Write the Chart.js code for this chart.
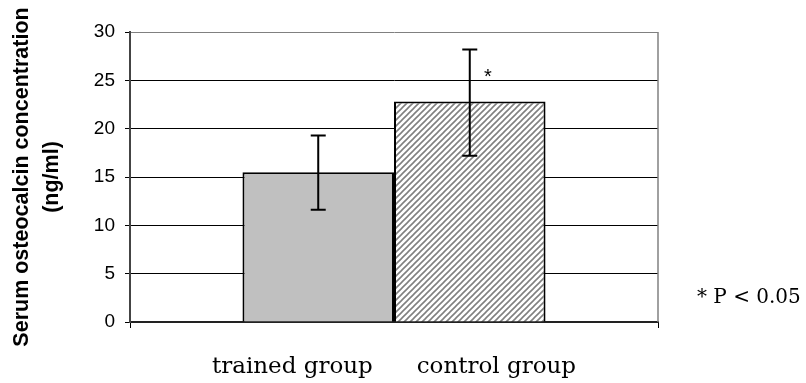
<!DOCTYPE html>
<html>
<head>
<meta charset="utf-8">
<script src="https://cdn.jsdelivr.net/npm/chart.js@4.4.1/dist/chart.umd.min.js"></script>
<style>
  body { margin: 0; background: #fff; }
  #box { width: 806px; height: 383px; }
</style>
</head>
<body>
<div id="box"><canvas id="grafico"></canvas></div>
<script>
// dados
const categorias = ['trained group      control group'];
const grupos = ['trained group', 'control group'];
const medias = [15.5, 22.8];
const erroBaixo = [11.6, 17.2];
const erroAlto = [19.3, 28.2];
const marcaAsterisco = [null, 25.6];
const nota = '* P < 0.05';

// padrão hachurado para o grupo controle
function criarHachura() {
    const tile = document.createElement('canvas');
    tile.width = 6;
    tile.height = 6;
    const t = tile.getContext('2d');
    t.fillStyle = '#ffffff';
    t.fillRect(0, 0, 6, 6);
    t.strokeStyle = '#808080';
    t.lineWidth = 1.6;
    t.beginPath();
    t.moveTo(-1, 7); t.lineTo(7, -1);
    t.moveTo(-1, 1); t.lineTo(1, -1);
    t.moveTo(5, 7); t.lineTo(7, 5);
    t.stroke();
    return document.getElementById('grafico').getContext('2d').createPattern(tile, 'repeat');
}

// barras de erro, asterisco e nota
const extras = {
    id: 'extras',
    afterDatasetsDraw(chart) {
        const ctx = chart.ctx;
        const y = chart.scales.y;
        ctx.save();
        ctx.strokeStyle = '#000';
        ctx.lineWidth = 2;
        chart.data.datasets.forEach((ds, i) => {
            const bar = chart.getDatasetMeta(i).data[0];
            const yHi = y.getPixelForValue(erroAlto[i]);
            const yLo = y.getPixelForValue(erroBaixo[i]);
            ctx.beginPath();
            ctx.moveTo(bar.x, yHi); ctx.lineTo(bar.x, yLo);
            ctx.moveTo(bar.x - 7.5, yHi); ctx.lineTo(bar.x + 7.5, yHi);
            ctx.moveTo(bar.x - 7.5, yLo); ctx.lineTo(bar.x + 7.5, yLo);
            ctx.stroke();
            if (marcaAsterisco[i] !== null) {
                ctx.fillStyle = '#000';
                ctx.font = '20px "Liberation Sans", Arial, sans-serif';
                ctx.textAlign = 'center';
                ctx.textBaseline = 'middle';
                ctx.fillText('*', bar.x + 18, y.getPixelForValue(marcaAsterisco[i]) + 3);
            }
        });
        // borda direita do gráfico
        const area = chart.chartArea;
        ctx.strokeStyle = '#808080';
        ctx.lineWidth = 1.5;
        ctx.beginPath();
        ctx.moveTo(area.right, area.top); ctx.lineTo(area.right, area.bottom);
        ctx.stroke();
        ctx.fillStyle = '#000';
        ctx.font = '20px "DejaVu Serif", serif';
        ctx.textAlign = 'left';
        ctx.textBaseline = 'alphabetic';
        ctx.fillText(nota, area.right + 39, area.bottom - 19);
        ctx.restore();
    }
};

const hachura = criarHachura();

new Chart(document.getElementById('grafico'), {
    type: 'bar',
    data: {
        labels: categorias,
        datasets: [{
            label: grupos[0],
            data: [medias[0]],
            backgroundColor: '#c0c0c0',
            borderColor: '#000',
            borderWidth: 2,
        }, {
            label: grupos[1],
            data: [medias[1]],
            backgroundColor: hachura,
            borderColor: '#000',
            borderWidth: 2,
        }]
    },
    options: {
        responsive: true,
        maintainAspectRatio: false,
        animation: false,
        categoryPercentage: 0.574,
        barPercentage: 1,
        layout: { padding: { top: 32, right: 148, left: 0, bottom: 0 } },
        plugins: {
            legend: { display: false },
            tooltip: { enabled: false },
        },
        scales: {
            x: {
                afterFit(scale) { scale.height = 61; },
                grid: {
                    display: true,
                    drawOnChartArea: false,
                    tickLength: 6,
                    tickColor: '#000',
                },
                border: { color: '#222', width: 2 },
                ticks: {
                    color: '#000',
                    padding: 25,
                    font: { family: '"DejaVu Serif", serif', size: 23 },
                },
            },
            y: {
                min: 0,
                max: 30,
                afterFit(scale) { scale.width = 130; },
                ticks: {
                    stepSize: 5,
                    color: '#000',
                    padding: 10,
                    font: { family: '"Liberation Sans", Arial, sans-serif', size: 19 },
                },
                grid: {
                    color: ctx => (ctx.tick && ctx.tick.value === 30) ? '#808080' : '#000',
                    tickColor: '#000',
                    tickLength: 5,
                    lineWidth: 1,
                },
                border: { color: '#444', width: 2 },
                title: {
                    display: true,
                    text: ['Serum osteocalcin concentration', '(ng/ml)'],
                    color: '#000',
                    padding: { top: 7, bottom: 0 },
                    font: { family: '"Liberation Sans", Arial, sans-serif', size: 21.5, weight: 'bold', lineHeight: 1.4 },
                },
            },
        },
    },
    plugins: [extras],
});
</script>
</body>
</html>
